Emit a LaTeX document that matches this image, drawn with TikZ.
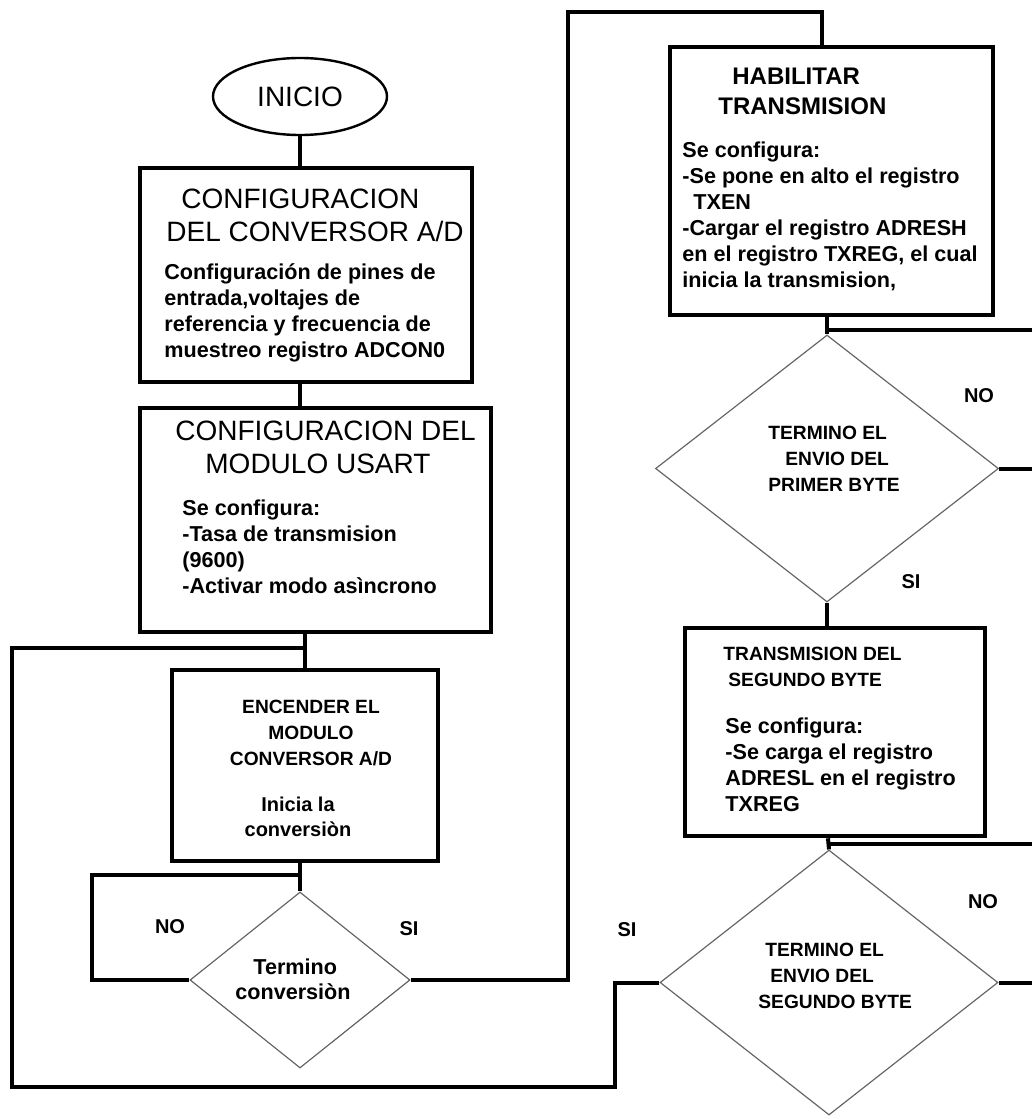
\documentclass[tikz,border=0pt]{standalone}
\usepackage{fontspec}
\setmainfont{Liberation Sans}
\usetikzlibrary{shapes.geometric}

\begin{document}
\begin{tikzpicture}[x=0.5pt,y=-0.5pt]
\tikzstyle{every node}+=[inner sep=0pt]
\tikzstyle{caja}=[draw, rectangle, line width=1.7pt]
\tikzstyle{cajad}=[caja, line width=2.3pt]
\tikzstyle{decision}=[draw=black!60, diamond, line width=0.6pt]
\tikzstyle{linea}=[line width=2pt]
\tikzstyle{titulo}=[anchor=north west, align=left, font=\fontsize{14}{16.5}\selectfont]
\tikzstyle{titulod}=[anchor=north west, align=left, font=\bfseries\fontsize{12}{15}\selectfont]
\tikzstyle{chico}=[anchor=north west, align=left, font=\bfseries\fontsize{9.6}{13}\selectfont]
\tikzstyle{texto}=[anchor=north west, align=left, font=\bfseries\fontsize{10.8}{13}\selectfont]
\tikzstyle{etiqueta}=[font=\bfseries\fontsize{10}{12}\selectfont]
\useasboundingbox (0,0) rectangle (1032,1119);
\node (inicio) [draw, ellipse, line width=1.2pt, minimum width=87pt, minimum height=38.5pt, font=\fontsize{14}{16}\selectfont] at (300,96.5) {INICIO};
\node (conv) [caja, minimum width=166pt, minimum height=107pt] at (306,275) {};
\node (usart) [caja, minimum width=175.5pt, minimum height=112pt] at (315.5,520) {};
\node (encender) [caja, minimum width=133pt, minimum height=95.5pt] at (305,765.5) {};
\node (d1) [decision, minimum width=110pt, minimum height=88pt] at (300,980) {};
\node (hab) [cajad, minimum width=161.5pt, minimum height=134pt] at (831.5,181) {};
\node (d2) [decision, minimum width=171.5pt, minimum height=133.5pt] at (827,468.5) {};
\node (segundo) [cajad, minimum width=150pt, minimum height=104pt] at (835,732) {};
\node (d3) [decision, minimum width=169pt, minimum height=132.5pt] at (829,982.5) {};
\node (tconv) [titulo] at (166,189) {\hspace*{7.5pt}CONFIGURACION\\DEL CONVERSOR A/D};
\node (bconv) [texto] at (164,263) {Configuración de pines de\\entrada,voltajes de\\referencia y frecuencia de\\muestreo registro ADCON0};
\node (tusart) [titulo] at (175,421) {CONFIGURACION DEL\\\hspace*{15pt}MODULO USART};
\node (busart) [texto] at (182,499) {Se configura:\\-Tasa de transmision\\(9600)\\-Activar modo asìncrono};
\node (tenc) [chico, anchor=north, align=center] at (311,700) {ENCENDER EL\\MODULO\\CONVERSOR A/D};
\node (benc) [font=\bfseries\fontsize{10}{12.5}\selectfont, anchor=north, align=center] at (298,797) {Inicia la\\conversiòn};
\node (td1) [texto, font=\bfseries\fontsize{10.8}{12.5}\selectfont] at (235,958) {\hspace*{9pt}Termino\\conversiòn};
\node (thab) [titulod] at (718,67.5) {\hspace*{7pt}HABILITAR\\TRANSMISION};
\node (bhab) [texto] at (682,141) {Se configura:\\-Se pone en alto el registro\\\hspace*{5.5pt}TXEN\\-Cargar el registro ADRESH\\en el registro TXREG, el cual\\inicia la transmision,};
\node (td2) [chico] at (768,426) {TERMINO EL\\\hspace*{8.5pt}ENVIO DEL\\PRIMER BYTE};
\node (tseg) [chico] at (723,647) {TRANSMISION DEL\\\hspace*{2.5pt}SEGUNDO BYTE};
\node (bseg) [texto] at (725,717) {Se configura:\\-Se carga el registro\\ADRESL en el registro\\TXREG};
\node (td3) [chico] at (758,943) {\hspace*{3.5pt}TERMINO EL\\\hspace*{6pt}ENVIO DEL\\SEGUNDO BYTE};
\node (no1) [etiqueta] at (170,927) {NO};
\node (si1) [etiqueta] at (409,929) {SI};
\node (no2) [etiqueta] at (979,396) {NO};
\node (si2) [etiqueta] at (911,582) {SI};
\node (no3) [etiqueta] at (983,902) {NO};
\node (si3) [etiqueta] at (627,930) {SI};
\coordinate (j1) at (305,648);
\coordinate (j2) at (300,875);
\coordinate (noc) at (92,875);
\coordinate (sube) at (568,12);
\coordinate (entra) at (822,12);
\coordinate (j3) at (827,330);
\coordinate (j4) at (828,844);
\coordinate (vuelta) at (615,982.5);
\coordinate (lazo) at (12,1087);
\coordinate (fin1) at (1032,330);
\coordinate (fin2) at (1032,468.5);
\coordinate (fin3) at (1032,844);
\coordinate (fin4) at (1032,982.5);
\draw [linea] (inicio) -- (inicio |- conv.north);
\draw [linea] (conv.south -| inicio) -- (usart.north -| inicio);
\draw [linea] (usart.south -| encender) -- (encender.north);
\draw [linea] (encender.south -| d1) -- (d1.north);
\draw [linea] (j2) -- (noc) |- (d1.west);
\draw [linea] (d1.east) -| (sube) -- (entra) -- (entra |- hab.north);
\draw [linea] (hab.south -| d2) -- (d2.north);
\draw [linea] (j3) -- (fin1);
\draw [linea] (d2.east) -- (fin2);
\draw [linea] (d2.south) -- (d2.south |- segundo.north);
\draw [linea] (segundo.south -| j4) -- (d3.north);
\draw [linea] (j4) -- (fin3);
\draw [linea] (d3.east) -- (fin4);
\draw [linea] (d3.west) -- (vuelta) |- (lazo) |- (j1);
\end{tikzpicture}
\end{document}
